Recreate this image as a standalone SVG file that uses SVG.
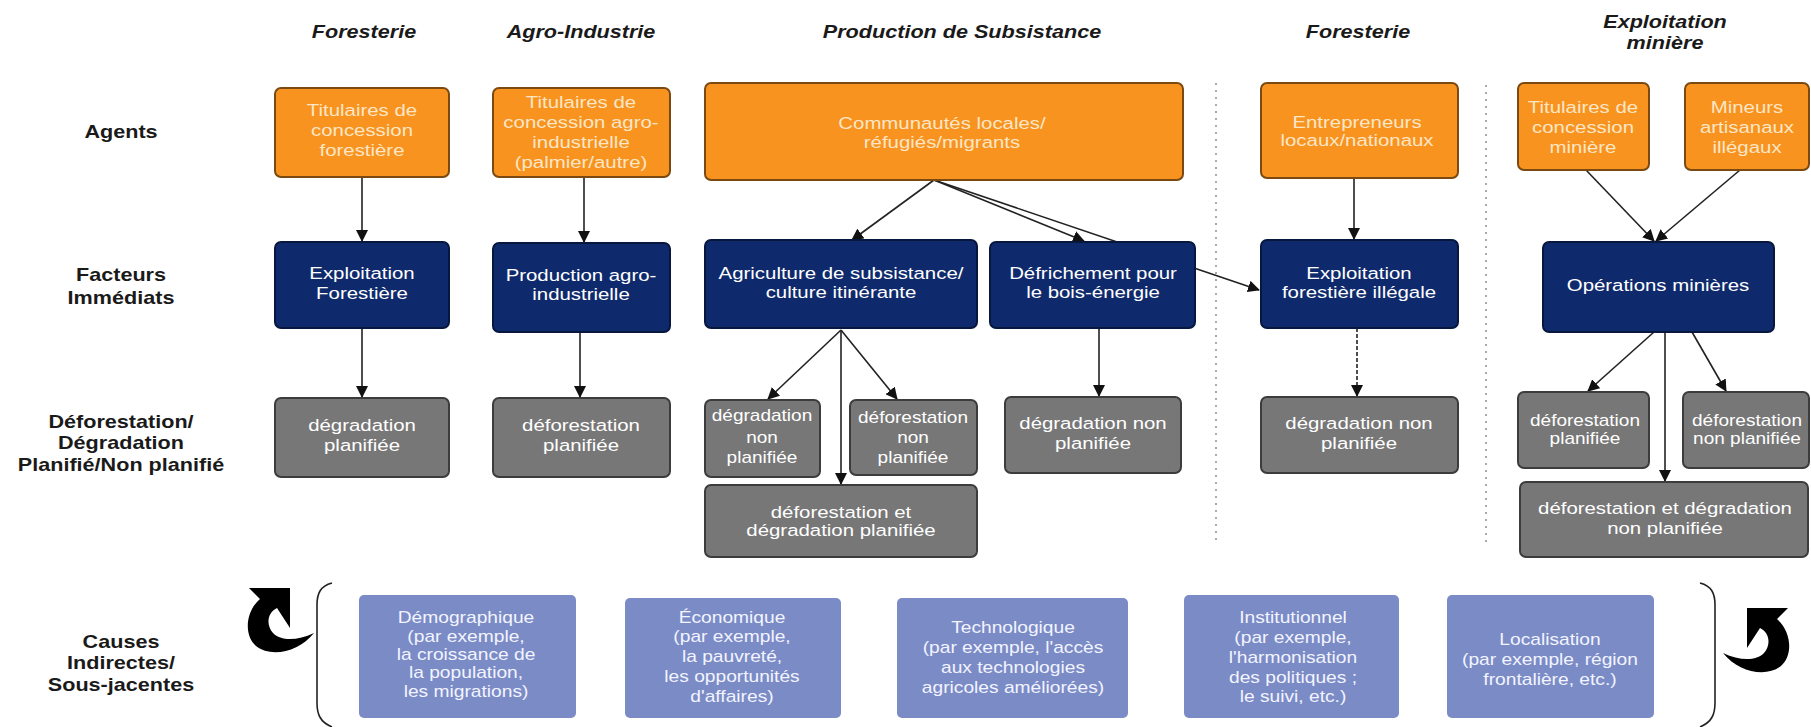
<svg xmlns="http://www.w3.org/2000/svg" width="1811" height="727" viewBox="0 0 1811 727">
<defs>
<style>
.hdr{font-family:"Liberation Sans",Arial,sans-serif;font-size:18px;font-weight:bold;font-style:italic;fill:#1a1a1a;text-anchor:middle}
.lbl{font-family:"Liberation Sans",Arial,sans-serif;font-size:18px;font-weight:bold;fill:#1a1a1a;text-anchor:middle}
.t{font-family:"Liberation Sans",Arial,sans-serif;font-size:17px;text-anchor:middle}
.tp{font-family:"Liberation Sans",Arial,sans-serif;font-size:16px;text-anchor:middle;fill:#f2f4ff}
.or{fill:#f7931e;stroke:#7a4a12;stroke-width:2}
.ort{fill:#fde6c6}
.nv{fill:#0f2a6c;stroke:#08173d;stroke-width:2}
.nvt{fill:#ffffff}
.gr{fill:#777777;stroke:#3c3c3c;stroke-width:2}
.grt{fill:#ffffff}
.pu{fill:#7b8bc6}
.c{stroke:#222;stroke-width:1.6;fill:none;marker-end:url(#ah)}
.dot{stroke:#aaa;stroke-width:2;stroke-dasharray:2 5;fill:none}
</style>
<marker id="ah" markerWidth="12" markerHeight="12" refX="11" refY="6" orient="auto" markerUnits="userSpaceOnUse">
<path d="M0,0 L12,6 L0,12 Z" fill="#111"/>
</marker>
<path id="curl" d="M1747,608 L1788,608 L1777,619 C1792,632 1793,656 1781,666 C1766,678 1738,672 1723,653 C1740,661 1756,661 1764,653 C1771,645 1770,633 1760,628 L1747,648 Z" fill="#000"/>
</defs>
<rect width="1811" height="727" fill="#fff"/>

<g id="headers">
<text class="hdr" transform="translate(364,38) scale(1.2,1)">Foresterie</text>
<text class="hdr" transform="translate(581,38) scale(1.2,1)">Agro-Industrie</text>
<text class="hdr" transform="translate(962,38) scale(1.2,1)">Production de Subsistance</text>
<text class="hdr" transform="translate(1358,38) scale(1.2,1)">Foresterie</text>
<text class="hdr" transform="translate(1665,28) scale(1.2,1)">Exploitation</text>
<text class="hdr" transform="translate(1665,49) scale(1.2,1)">minière</text>
</g>

<g id="row-labels">
<g transform="translate(121,0) scale(1.2,1)">
<text class="lbl" y="138">Agents</text>
<text class="lbl" y="281">Facteurs</text>
<text class="lbl" y="304">Immédiats</text>
<text class="lbl" y="428">Déforestation/</text>
<text class="lbl" y="449">Dégradation</text>
<text class="lbl" y="471">Planifié/Non planifié</text>
<text class="lbl" y="648">Causes</text>
<text class="lbl" y="669">Indirectes/</text>
<text class="lbl" y="691">Sous-jacentes</text>
</g>
</g>

<g id="separators">
<line class="dot" x1="1216" y1="83" x2="1216" y2="545"/>
<line class="dot" x1="1486" y1="85" x2="1486" y2="545"/>
</g>

<g id="connectors">
<line class="c" x1="362" y1="177" x2="362" y2="241"/>
<line class="c" x1="584" y1="177" x2="584" y2="242"/>
<line class="c" x1="934" y1="180" x2="852" y2="240"/>
<line class="c" x1="934" y1="180" x2="1084" y2="241"/>
<line class="c" x1="934" y1="180" x2="1259" y2="290"/>
<line class="c" x1="1354" y1="178" x2="1354" y2="239"/>
<line class="c" x1="1586" y1="170" x2="1654" y2="241"/>
<line class="c" x1="1740" y1="170" x2="1656" y2="241"/>
<line class="c" x1="362" y1="328" x2="362" y2="397"/>
<line class="c" x1="580" y1="332" x2="580" y2="397"/>
<line class="c" x1="841" y1="330" x2="768" y2="399"/>
<line class="c" x1="841" y1="330" x2="897" y2="399"/>
<line class="c" x1="841" y1="330" x2="841" y2="484"/>
<line class="c" x1="1099" y1="328" x2="1099" y2="396"/>
<line class="c" x1="1357" y1="328" x2="1357" y2="396" style="stroke-dasharray:4 2"/>
<line class="c" x1="1654" y1="332" x2="1588" y2="391"/>
<line class="c" x1="1665" y1="332" x2="1665" y2="481"/>
<line class="c" x1="1692" y1="332" x2="1726" y2="391"/>
</g>

<g id="agent-forest">
<rect class="or" x="275" y="88" width="174" height="89" rx="6"/>
<g transform="translate(362,0) scale(1.2,1)" class="ort">
<text class="t" y="116">Titulaires de</text><text class="t" y="136">concession</text><text class="t" y="156">forestière</text></g>
</g>
<g id="agent-agro">
<rect class="or" x="493" y="88" width="177" height="89" rx="6"/>
<g transform="translate(581,0) scale(1.2,1)" class="ort">
<text class="t" y="108">Titulaires de</text><text class="t" y="128">concession agro-</text><text class="t" y="148">industrielle</text><text class="t" y="168">(palmier/autre)</text></g>
</g>
<g id="agent-communities">
<rect class="or" x="705" y="83" width="478" height="97" rx="6"/>
<g transform="translate(942,0) scale(1.2,1)" class="ort">
<text class="t" y="129">Communautés locales/</text><text class="t" y="148">réfugiés/migrants</text></g>
</g>
<g id="agent-entrepreneurs">
<rect class="or" x="1261" y="83" width="197" height="95" rx="6"/>
<g transform="translate(1357,0) scale(1.2,1)" class="ort">
<text class="t" y="128">Entrepreneurs</text><text class="t" y="146">locaux/nationaux</text></g>
</g>
<g id="agent-mining">
<rect class="or" x="1518" y="83" width="131" height="87" rx="6"/>
<g transform="translate(1583,0) scale(1.2,1)" class="ort">
<text class="t" y="113">Titulaires de</text><text class="t" y="133">concession</text><text class="t" y="153">minière</text></g>
</g>
<g id="agent-artisanal">
<rect class="or" x="1685" y="83" width="124" height="87" rx="6"/>
<g transform="translate(1747,0) scale(1.2,1)" class="ort">
<text class="t" y="113">Mineurs</text><text class="t" y="133">artisanaux</text><text class="t" y="153">illégaux</text></g>
</g>

<g id="factor-logging">
<rect class="nv" x="275" y="242" width="174" height="86" rx="6"/>
<g transform="translate(362,0) scale(1.2,1)" class="nvt">
<text class="t" y="279">Exploitation</text><text class="t" y="299">Forestière</text></g>
</g>
<g id="factor-agro">
<rect class="nv" x="493" y="243" width="177" height="89" rx="6"/>
<g transform="translate(581,0) scale(1.2,1)" class="nvt">
<text class="t" y="281">Production agro-</text><text class="t" y="300">industrielle</text></g>
</g>
<g id="factor-agriculture">
<rect class="nv" x="705" y="240" width="272" height="88" rx="6"/>
<g transform="translate(841,0) scale(1.2,1)" class="nvt">
<text class="t" y="279">Agriculture de subsistance/</text><text class="t" y="298">culture itinérante</text></g>
</g>
<g id="factor-fuelwood">
<rect class="nv" x="990" y="242" width="205" height="86" rx="6"/>
<g transform="translate(1093,0) scale(1.2,1)" class="nvt">
<text class="t" y="279">Défrichement pour</text><text class="t" y="298">le bois-énergie</text></g>
</g>
<g id="factor-illegal">
<rect class="nv" x="1261" y="240" width="197" height="88" rx="6"/>
<g transform="translate(1359,0) scale(1.2,1)" class="nvt">
<text class="t" y="279">Exploitation</text><text class="t" y="298">forestière illégale</text></g>
</g>
<g id="factor-mining">
<rect class="nv" x="1543" y="242" width="231" height="90" rx="6"/>
<g transform="translate(1658,0) scale(1.2,1)" class="nvt">
<text class="t" y="291">Opérations minières</text></g>
</g>

<g id="out-forest">
<rect class="gr" x="275" y="398" width="174" height="79" rx="6"/>
<g transform="translate(362,0) scale(1.2,1)" class="grt">
<text class="t" y="431">dégradation</text><text class="t" y="451">planifiée</text></g>
</g>
<g id="out-agro">
<rect class="gr" x="493" y="398" width="177" height="79" rx="6"/>
<g transform="translate(581,0) scale(1.2,1)" class="grt">
<text class="t" y="431">déforestation</text><text class="t" y="451">planifiée</text></g>
</g>
<g id="out-agri-degr">
<rect class="gr" x="705" y="400" width="115" height="77" rx="6"/>
<g transform="translate(762,0) scale(1.12,1)" class="grt">
<text class="t" y="421">dégradation</text><text class="t" y="443">non</text><text class="t" y="463">planifiée</text></g>
</g>
<g id="out-agri-defor">
<rect class="gr" x="850" y="400" width="127" height="75" rx="6"/>
<g transform="translate(913,0) scale(1.12,1)" class="grt">
<text class="t" y="423">déforestation</text><text class="t" y="443">non</text><text class="t" y="463">planifiée</text></g>
</g>
<g id="out-agri-planned">
<rect class="gr" x="705" y="485" width="272" height="72" rx="6"/>
<g transform="translate(841,0) scale(1.2,1)" class="grt">
<text class="t" y="518">déforestation et</text><text class="t" y="536">dégradation planifiée</text></g>
</g>
<g id="out-fuelwood">
<rect class="gr" x="1005" y="397" width="176" height="76" rx="6"/>
<g transform="translate(1093,0) scale(1.2,1)" class="grt">
<text class="t" y="429">dégradation non</text><text class="t" y="449">planifiée</text></g>
</g>
<g id="out-illegal">
<rect class="gr" x="1261" y="397" width="197" height="76" rx="6"/>
<g transform="translate(1359,0) scale(1.2,1)" class="grt">
<text class="t" y="429">dégradation non</text><text class="t" y="449">planifiée</text></g>
</g>
<g id="out-mining-planned">
<rect class="gr" x="1518" y="392" width="131" height="76" rx="6"/>
<g transform="translate(1585,0) scale(1.12,1)" class="grt">
<text class="t" y="426">déforestation</text><text class="t" y="444">planifiée</text></g>
</g>
<g id="out-mining-unplanned">
<rect class="gr" x="1683" y="392" width="126" height="76" rx="6"/>
<g transform="translate(1747,0) scale(1.12,1)" class="grt">
<text class="t" y="426">déforestation</text><text class="t" y="444">non planifiée</text></g>
</g>
<g id="out-mining-both">
<rect class="gr" x="1520" y="482" width="288" height="75" rx="6"/>
<g transform="translate(1665,0) scale(1.2,1)" class="grt">
<text class="t" y="514">déforestation et dégradation</text><text class="t" y="534">non planifiée</text></g>
</g>

<g id="brackets">
<path d="M332,583 C320,586 317,594 317,605 L317,703 C317,714 320,722 332,727" fill="none" stroke="#222" stroke-width="1.6"/>
<path d="M1700,583 C1712,586 1715,594 1715,605 L1715,703 C1715,714 1712,722 1700,727" fill="none" stroke="#222" stroke-width="1.6"/>
<use href="#curl" transform="translate(2037,-20) scale(-1,1)"/>
<use href="#curl"/>
</g>

<g id="cause-demo">
<rect class="pu" x="359" y="595" width="217" height="123" rx="5"/>
<g transform="translate(466,0) scale(1.2,1)">
<text class="tp" y="623">Démographique</text><text class="tp" y="642">(par exemple,</text><text class="tp" y="660">la croissance de</text><text class="tp" y="678">la population,</text><text class="tp" y="697">les migrations)</text></g>
</g>
<g id="cause-eco">
<rect class="pu" x="625" y="598" width="216" height="120" rx="5"/>
<g transform="translate(732,0) scale(1.2,1)">
<text class="tp" y="623">Économique</text><text class="tp" y="642">(par exemple,</text><text class="tp" y="662">la pauvreté,</text><text class="tp" y="682">les opportunités</text><text class="tp" y="702">d'affaires)</text></g>
</g>
<g id="cause-tech">
<rect class="pu" x="897" y="598" width="231" height="120" rx="5"/>
<g transform="translate(1013,0) scale(1.2,1)">
<text class="tp" y="633">Technologique</text><text class="tp" y="653">(par exemple, l'accès</text><text class="tp" y="673">aux technologies</text><text class="tp" y="693">agricoles améliorées)</text></g>
</g>
<g id="cause-inst">
<rect class="pu" x="1184" y="595" width="215" height="123" rx="5"/>
<g transform="translate(1293,0) scale(1.2,1)">
<text class="tp" y="623">Institutionnel</text><text class="tp" y="643">(par exemple,</text><text class="tp" y="663">l'harmonisation</text><text class="tp" y="683">des politiques ;</text><text class="tp" y="702">le suivi, etc.)</text></g>
</g>
<g id="cause-loc">
<rect class="pu" x="1447" y="595" width="207" height="123" rx="5"/>
<g transform="translate(1550,0) scale(1.2,1)">
<text class="tp" y="645">Localisation</text><text class="tp" y="665">(par exemple, région</text><text class="tp" y="685">frontalière, etc.)</text></g>
</g>
</svg>
